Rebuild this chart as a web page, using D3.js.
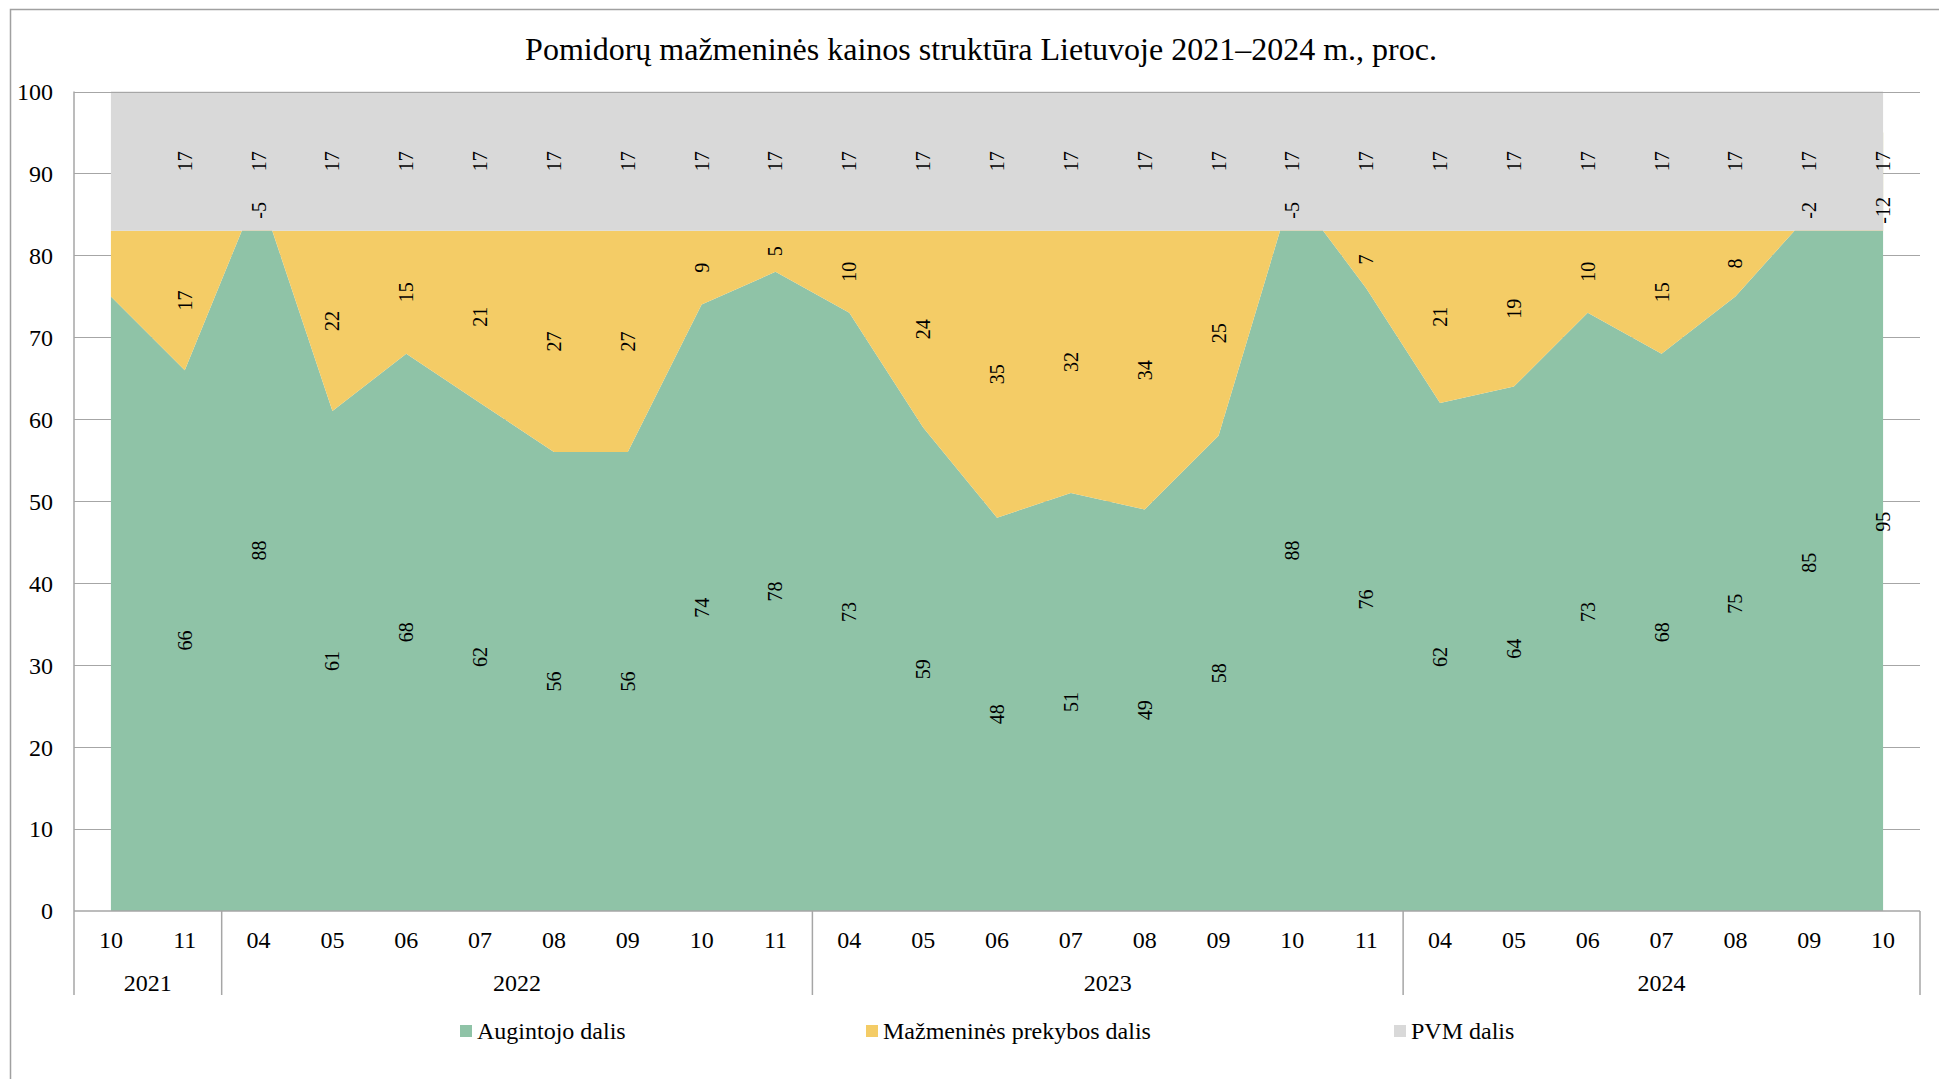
<!DOCTYPE html>
<html>
<head>
<meta charset="utf-8">
<script src="https://cdn.jsdelivr.net/npm/d3@7"></script>
<style>
  html, body { margin: 0; padding: 0; background: #fff; }
  svg { display: block; }
  text { font-family: "Liberation Serif", "Times New Roman", serif; fill: #000; }
</style>
</head>
<body>
<svg id="chart" width="1939" height="1079"></svg>
<script>
// Months shown on the category axis, grouped by year
const months = ["10","11","04","05","06","07","08","09","10","11","04","05","06","07","08","09","10","11","04","05","06","07","08","09","10"];
const years = [
  { label: "2021", from: 0, to: 2 },
  { label: "2022", from: 2, to: 10 },
  { label: "2023", from: 10, to: 18 },
  { label: "2024", from: 18, to: 25 }
];

// Price structure shares, %
const growerShare = [75, 66, 88, 61, 68, 62, 56, 56, 74, 78, 73, 59, 48, 51, 49, 58, 88, 76, 62, 64, 73, 68, 75, 85, 95];
const retailShare = [8, 17, -5, 22, 15, 21, 27, 27, 9, 5, 10, 24, 35, 32, 34, 25, -5, 7, 21, 19, 10, 15, 8, -2, -12];
const vatShare    = [17, 17, 17, 17, 17, 17, 17, 17, 17, 17, 17, 17, 17, 17, 17, 17, 17, 17, 17, 17, 17, 17, 17, 17, 17];

const seriesNames = ["Augintojo dalis", "Mažmeninės prekybos dalis", "PVM dalis"];
const seriesColors = ["#8fc3a7", "#f4cc66", "#d9d9d9"];
const yTicks = [0, 10, 20, 30, 40, 50, 60, 70, 80, 90, 100];
const titleText = "Pomidorų mažmeninės kainos struktūra Lietuvoje 2021–2024 m., proc.";

const svg = d3.select("#chart");
const plot = { left: 74, right: 1920, top: 91.5, bottom: 911 };
const gridColor = "#a6a6a6";

// Outer chart frame
svg.append("path")
  .attr("d", `M10.5,1079 V9.5 H1939`)
  .attr("fill", "none").attr("stroke", "#a0a0a0").attr("stroke-width", 1.5);

// Title
svg.append("text")
  .attr("x", 981).attr("y", 60)
  .attr("text-anchor", "middle")
  .attr("font-size", 32)
  .text(titleText);

const x = d3.scaleBand()
  .domain(d3.range(months.length))
  .range([plot.left, plot.right]);
const cx = i => x(i) + x.bandwidth() / 2;

const y = d3.scaleLinear().domain([0, 100]).range([plot.bottom, plot.top]);

// Horizontal gridlines (beneath the areas)
svg.append("g").selectAll("line")
  .data(yTicks.filter(t => t > 0 && t < 100))
  .join("line")
  .attr("x1", plot.left).attr("x2", plot.right)
  .attr("y1", d => Math.round(y(d)) + 0.5).attr("y2", d => Math.round(y(d)) + 0.5)
  .attr("stroke", gridColor).attr("stroke-width", 1.2);

// Stacked layers
const rows = months.map((m, i) => ({
  i,
  g: growerShare[i],
  r: retailShare[i],
  v: vatShare[i]
}));

const areaGrower = d3.area()
  .x(d => cx(d.i))
  .y0(() => y(0))
  .y1(d => y(d.g));
const areaRetail = d3.area()
  .x(d => cx(d.i))
  .y0(d => y(d.g))
  .y1(d => y(d.g + d.r));
const areaVat = d3.area()
  .x(d => cx(d.i))
  .y0(d => y(d.g + d.r))
  .y1(d => y(d.g + d.r + d.v));

svg.append("path").datum(rows).attr("d", areaGrower).attr("fill", seriesColors[0]);
svg.append("path").datum(rows).attr("d", areaRetail).attr("fill", seriesColors[1]);
svg.append("path").datum(rows).attr("d", areaVat).attr("fill", seriesColors[2]);

// Top gridline and axis lines
svg.append("line")
  .attr("x1", plot.left).attr("x2", plot.right)
  .attr("y1", Math.round(y(100)) + 0.5).attr("y2", Math.round(y(100)) + 0.5)
  .attr("stroke", gridColor).attr("stroke-width", 1.2);
svg.append("line")
  .attr("x1", plot.left).attr("x2", plot.right)
  .attr("y1", plot.bottom).attr("y2", plot.bottom)
  .attr("stroke", gridColor).attr("stroke-width", 1.5);

const groupBottom = 995;
svg.append("line")
  .attr("x1", plot.left).attr("x2", plot.left)
  .attr("y1", plot.top).attr("y2", groupBottom)
  .attr("stroke", gridColor).attr("stroke-width", 1.5);

// Year group separators below the axis
svg.append("g").selectAll("line")
  .data(years.slice(1).map(d => d.from).concat([months.length]))
  .join("line")
  .attr("x1", d => x(d) === undefined ? plot.right : x(d))
  .attr("x2", d => x(d) === undefined ? plot.right : x(d))
  .attr("y1", plot.bottom).attr("y2", groupBottom)
  .attr("stroke", gridColor).attr("stroke-width", 1.5);

// Y axis labels
svg.append("g").selectAll("text")
  .data(yTicks)
  .join("text")
  .attr("x", 53).attr("y", d => y(d))
  .attr("dy", "0.35em")
  .attr("text-anchor", "end")
  .attr("font-size", 24)
  .text(d => d);

// Month labels
svg.append("g").selectAll("text")
  .data(months)
  .join("text")
  .attr("x", (d, i) => cx(i)).attr("y", 940)
  .attr("dy", "0.35em")
  .attr("text-anchor", "middle")
  .attr("font-size", 24)
  .text(d => d);

// Year labels
svg.append("g").selectAll("text")
  .data(years)
  .join("text")
  .attr("x", d => {
    const a = x(d.from);
    const b = d.to >= months.length ? plot.right : x(d.to);
    return (a + b) / 2;
  })
  .attr("y", 983)
  .attr("dy", "0.35em")
  .attr("text-anchor", "middle")
  .attr("font-size", 24)
  .text(d => d.label);

// Data labels, rotated, centred in each segment (first month has none).
// A negative retail share is labelled just above the top of its stack.
const labelRows = rows.slice(1);
const labelLayer = svg.append("g");
function addLabels(getMid, getVal) {
  labelLayer.append("g").selectAll("text")
    .data(labelRows)
    .join("text")
    .attr("transform", d => `translate(${cx(d.i)},${y(getMid(d))}) rotate(-90)`)
    .attr("dy", "0.35em")
    .attr("text-anchor", "middle")
    .attr("font-size", 20)
    .text(d => getVal(d));
}
addLabels(d => d.g / 2, d => d.g);
addLabels(d => d.r >= 0 ? d.g + d.r / 2 : d.g + d.r + 2.5, d => d.r);
addLabels(d => d.g + d.r + d.v / 2, d => d.v);

// Legend
const legendItems = [
  { name: seriesNames[0], color: seriesColors[0], x: 460 },
  { name: seriesNames[1], color: seriesColors[1], x: 866 },
  { name: seriesNames[2], color: seriesColors[2], x: 1394 }
];
const lg = svg.append("g").selectAll("g").data(legendItems).join("g")
  .attr("transform", d => `translate(${d.x},1031)`);
lg.append("rect").attr("x", 0).attr("y", -6).attr("width", 12).attr("height", 12)
  .attr("fill", d => d.color);
lg.append("text").attr("x", 17).attr("y", 0).attr("dy", "0.35em")
  .attr("font-size", 24).text(d => d.name);
</script>
</body>
</html>
